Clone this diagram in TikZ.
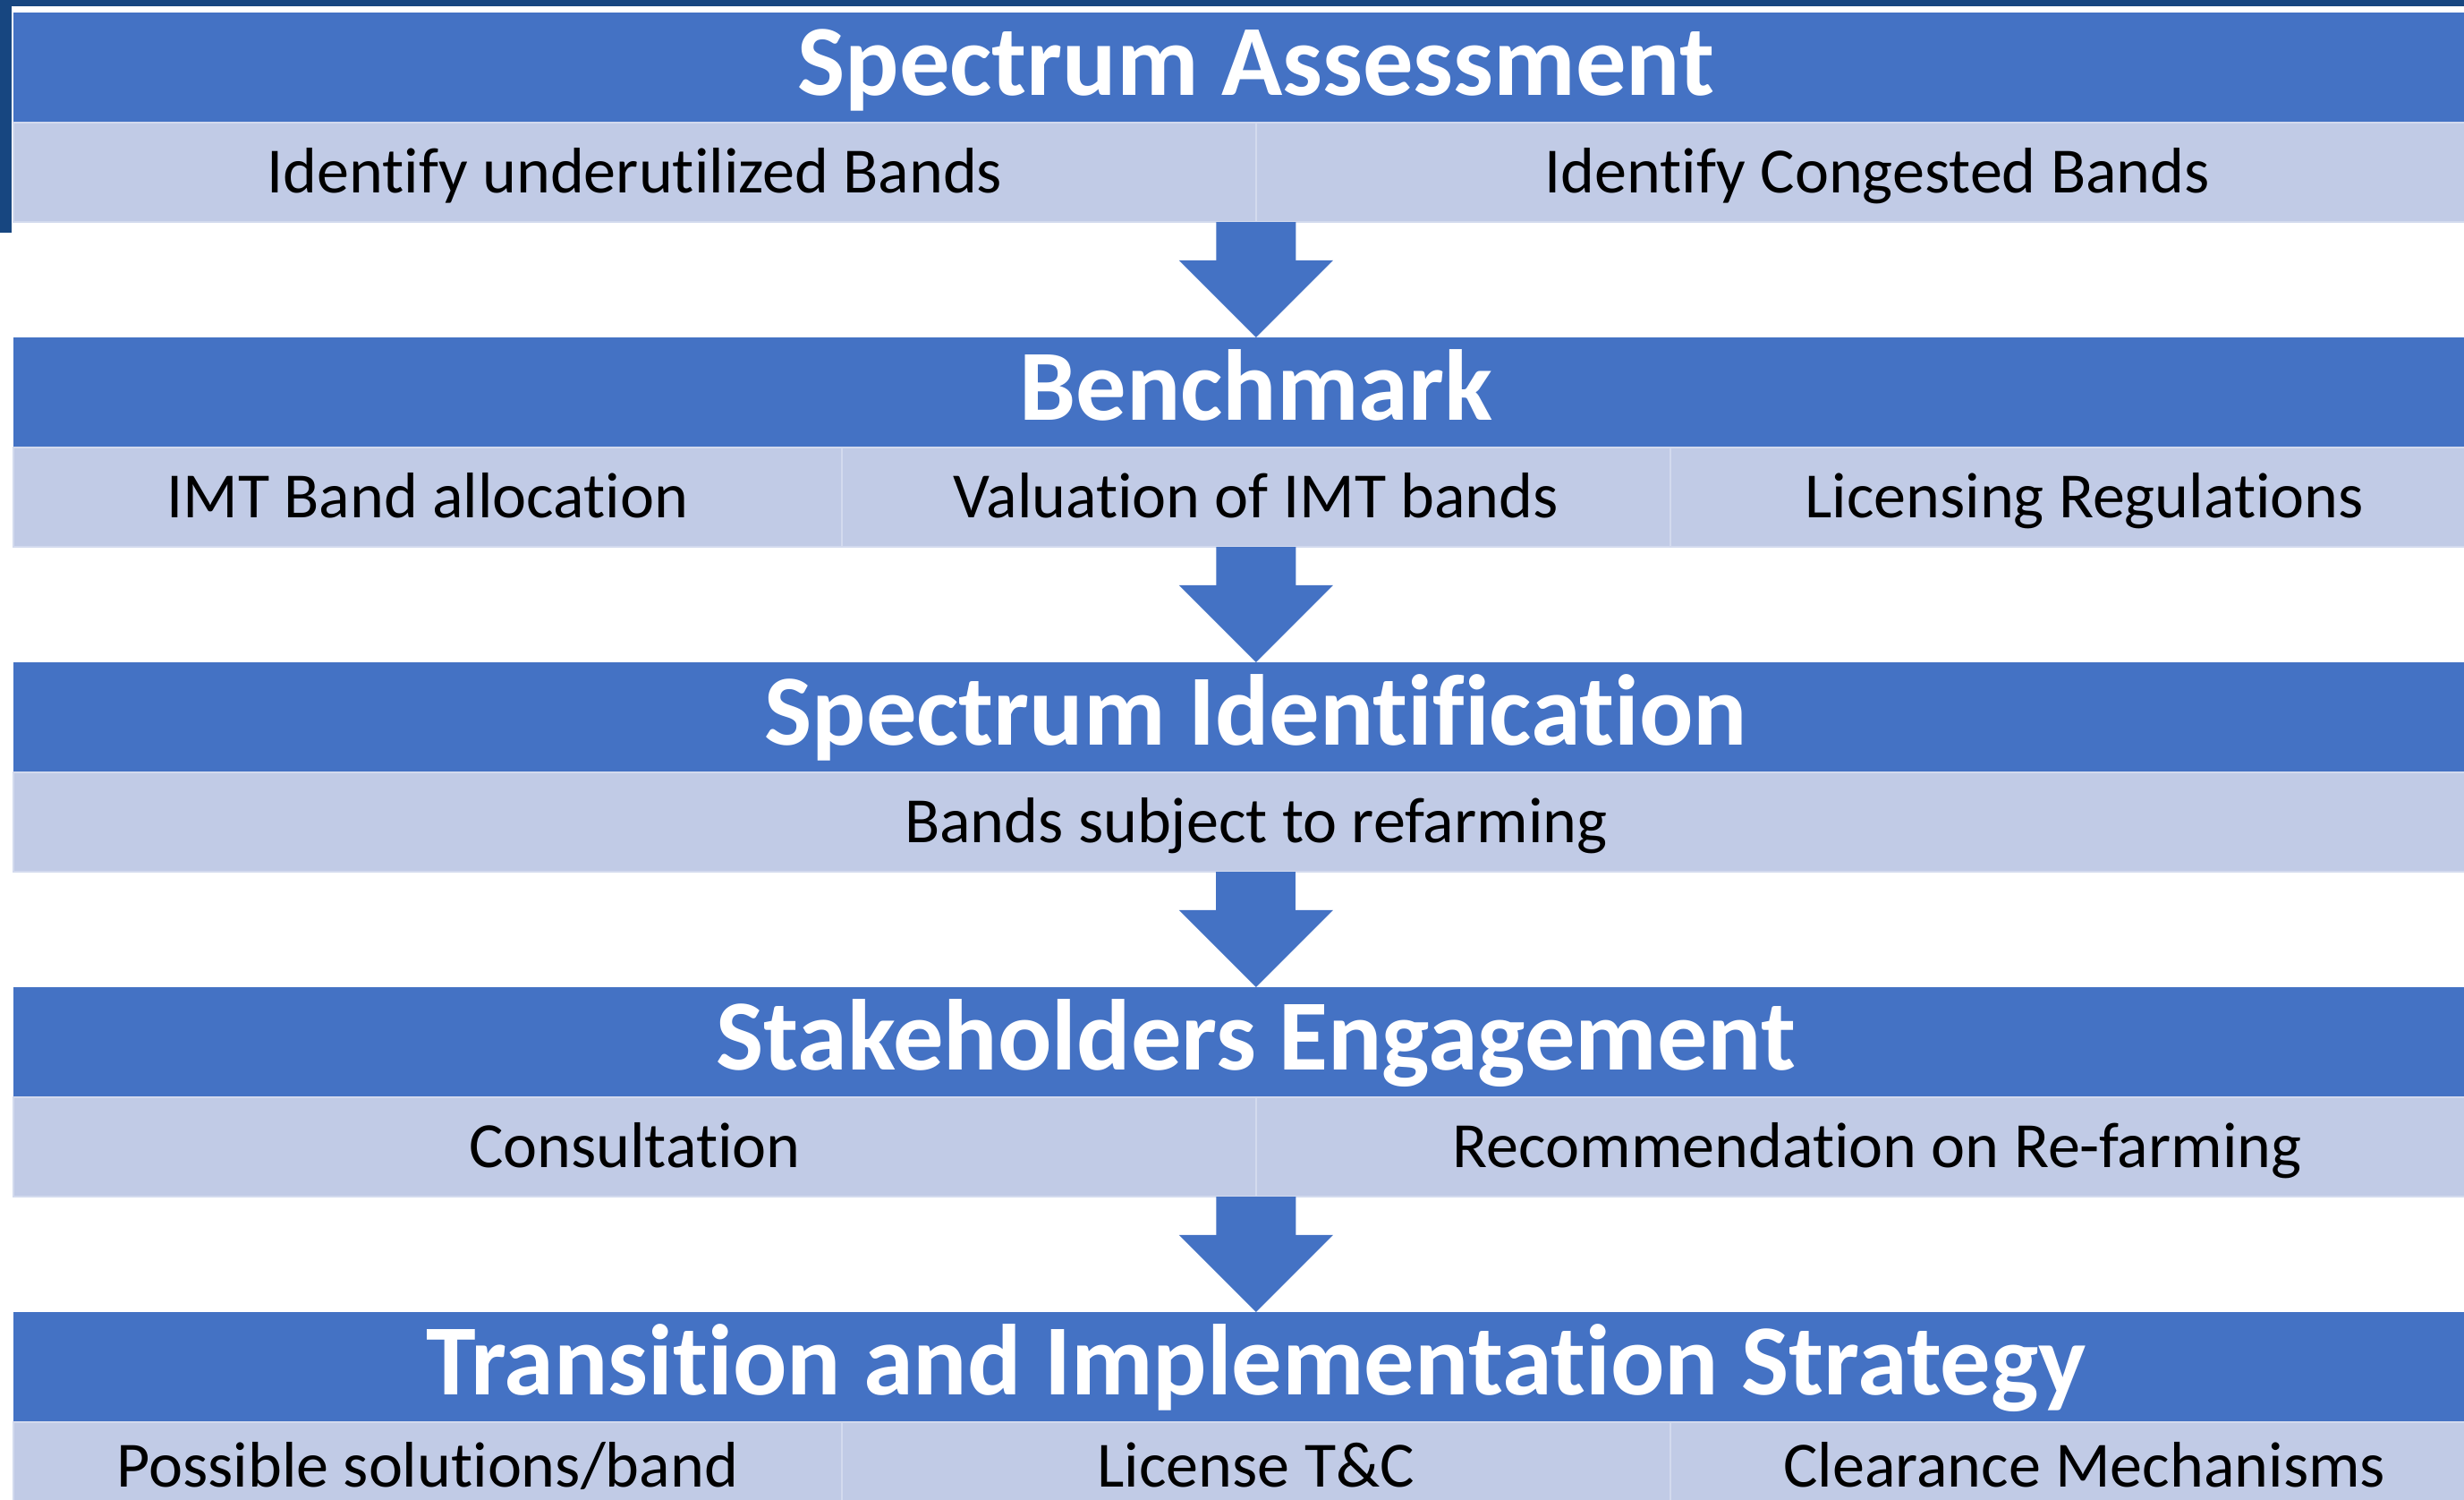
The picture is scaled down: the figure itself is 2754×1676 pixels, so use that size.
\documentclass[tikz,border=0pt]{standalone}
\usepackage{fontspec}
\setmainfont{Carlito}[Ligatures={NoCommon}]
\usetikzlibrary{positioning,arrows.meta}
\definecolor{headblue}{RGB}{68,114,196}
\definecolor{bandblue}{RGB}{193,203,230}
\definecolor{bandline}{RGB}{211,218,238}
\definecolor{frameblue}{RGB}{23,70,128}

\begin{document}
\begin{tikzpicture}[x=0.01cm, y=-0.01cm,
  head/.style={rectangle, fill=headblue, text=white, inner sep=0pt, outer sep=0pt, minimum width=27.76cm, minimum height=1.23cm, text height=20.6pt, text depth=2.8pt, font=\fontsize{32}{38}\selectfont\bfseries, anchor=north west},
  cell/.style={rectangle, fill=bandblue, draw=bandline, line width=0.025cm, inner sep=0pt, outer sep=0pt, minimum height=1.11cm, text height=13.2pt, text depth=0pt, font=\fontsize{20.5}{24}\selectfont},
  half/.style={cell, minimum width=13.88cm},
  third/.style={cell, minimum width=9.2533cm},
  whole/.style={cell, minimum width=27.76cm},
  short/.style={minimum height=0.98cm},
  flow/.style={draw=headblue, line width=0.89cm, -{Triangle[width=1.72cm, length=0.86cm, line width=0pt]}}]
\useasboundingbox (0,0) rectangle (2754,1676);
\clip (0,0) rectangle (2754,1676);
\fill[frameblue] (0,0) rectangle (2754,7);
\fill[frameblue] (0,0) rectangle (13,260);

\node[head] (h1) at (15,14) {Spectrum Assessment};
\node[half, anchor=north west] (c1a) at (h1.south west) {Identify underutilized Bands};
\node[half, right=0pt of c1a] (c1b) {Identify Congested Bands};

\node[head] (h2) at (15,377) {Benchmark};
\node[third, anchor=north west] (c2a) at (h2.south west) {IMT Band allocation};
\node[third, right=0pt of c2a] (c2b) {Valuation of IMT bands};
\node[third, right=0pt of c2b] (c2c) {Licensing Regulations};

\node[head] (h3) at (15,740) {Spectrum Identification};
\node[whole, anchor=north west] (c3a) at (h3.south west) {Bands subject to refarming};

\node[head] (h4) at (15,1103) {Stakeholders Engagement};
\node[half, anchor=north west] (c4a) at (h4.south west) {Consultation};
\node[half, right=0pt of c4a] (c4b) {Recommendation on Re-farming};

\node[head] (h5) at (15,1466) {Transition and Implementation Strategy};
\node[third, short, anchor=north west] (c5a) at (h5.south west) {Possible solutions/band};
\node[third, short, right=0pt of c5a] (c5b) {License T\&C};
\node[third, short, right=0pt of c5b] (c5c) {Clearance Mechanisms};

\draw[flow] (c1a.south east) -- (h2.north);
\draw[flow] (c2b.south) -- (h3.north);
\draw[flow] (c3a.south) -- (h4.north);
\draw[flow] (c4a.south east) -- (h5.north);
\end{tikzpicture}
\end{document}
